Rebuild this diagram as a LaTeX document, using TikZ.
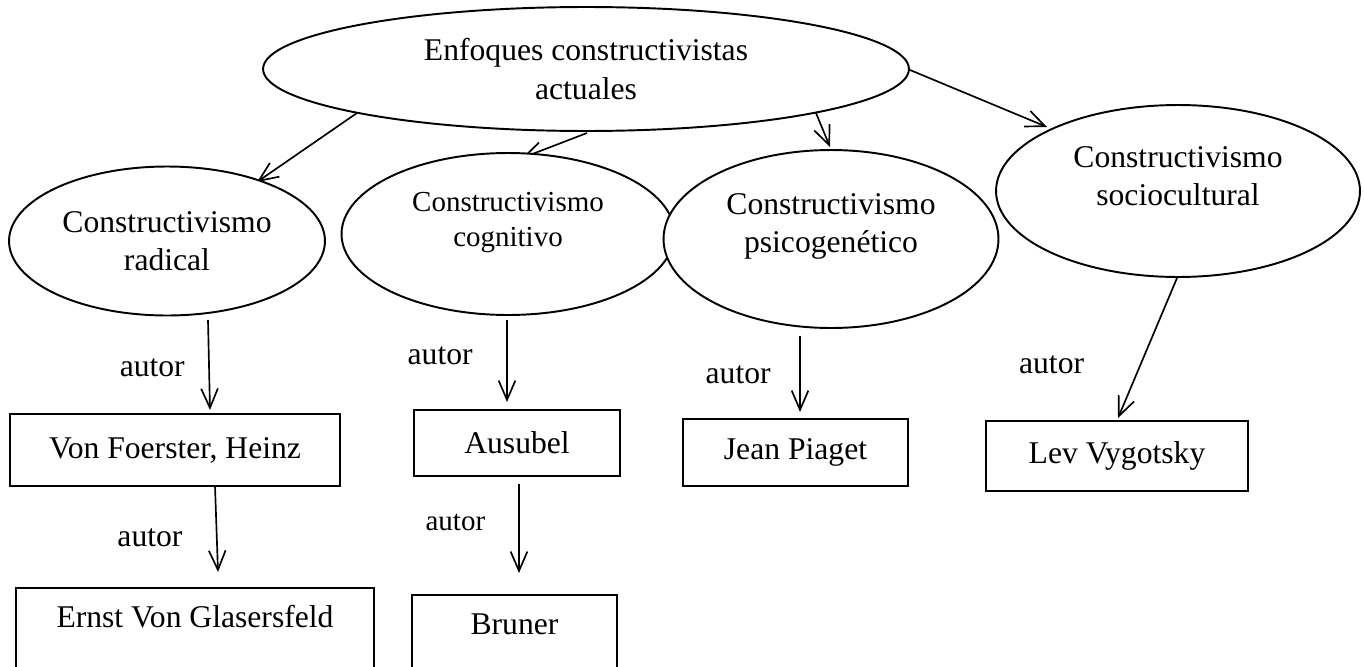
\documentclass[tikz,border=0pt]{standalone}
\usepackage{fontspec}
\setmainfont{Liberation Serif}
\usetikzlibrary{shapes.geometric, arrows.meta, calc, backgrounds}

\begin{document}
\begin{tikzpicture}[
    x=0.02cm, y=-0.02cm,
    bubble/.style={ellipse, draw, line width=1.1pt, fill=white, align=center, inner sep=0pt, font=\fontsize{18}{21.5}\selectfont},
    person/.style={rectangle, draw, line width=1.1pt, fill=white, inner sep=0pt, font=\fontsize{18}{21.5}\selectfont},
    arrow/.style={-{Straight Barb[length=11pt, width=9.5pt]}, line width=0.95pt},
    lbl/.style={inner sep=0pt, font=\fontsize{18}{21.5}\selectfont}
]
\useasboundingbox (0,0) rectangle (1364,666);

% Nodes
\node (enfoques) [bubble, minimum width=12.92cm, minimum height=2.48cm, font=\fontsize{18}{22.7}\selectfont] at (586,69) {Enfoques constructivistas\\actuales};
\node (radical) [bubble, minimum width=6.32cm, minimum height=2.98cm] at (167,241) {Constructivismo\\radical};
\node (cognitivo) [bubble, minimum width=6.66cm, minimum height=3.24cm, font=\fontsize{16.5}{19.5}\selectfont] at (508,234) {Constructivismo\\cognitivo\\[-3pt]\mbox{}};
\node (psico) [bubble, minimum width=6.70cm, minimum height=3.56cm] at (831,239) {Constructivismo\\psicogenético\\[-3.6pt]\mbox{}};
\node (socio) [bubble, minimum width=7.28cm, minimum height=3.44cm] at (1178,191) {Constructivismo\\sociocultural\\[-4.5pt]\mbox{}};

\node (foerster) [person, minimum width=6.6cm, minimum height=1.44cm] at (175,450) {Von Foerster, Heinz};
\node (ausubel) [person, minimum width=4.12cm, minimum height=1.32cm] at (517,443) {Ausubel};
\node (piaget) [person, minimum width=4.5cm, minimum height=1.34cm] at (795.5,452.5) {Jean Piaget};
\node (vygotsky) [person, minimum width=5.24cm, minimum height=1.4cm] at (1117,456) {Lev Vygotsky};
\node (ernst) [person, minimum width=7.16cm, text height=0.8cm, text depth=1.24cm, anchor=north] at (195,587) {Ernst Von Glasersfeld};
\node (bruner) [person, minimum width=4.1cm, text height=0.8cm, text depth=1.24cm, anchor=north] at (514.5,594) {Bruner};

% Paths
\begin{scope}[on background layer]
\draw [arrow] ($(enfoques)+(-229,44)$) -- ($(radical)+(90,-59)$);
\draw [arrow] ($(enfoques)+(1,64)$) -- ($(cognitivo)+(14,-76)$);
\draw [arrow] ($(enfoques)+(230,44)$) -- ($(psico)+(-1,-92)$);
\draw [arrow] ($(enfoques)+(324,1)$) -- ($(socio)+(-131,-64)$);
\draw [arrow] ($(radical)+(41,79)$) -- ($(foerster)+(35,-40)$) node[lbl, pos=0.53, left=0.47cm] {autor};
\draw [arrow] ($(cognitivo)+(-1,86)$) -- ($(ausubel)+(-10,-41)$) node[lbl, pos=0.43, left=0.67cm] {autor};
\draw [arrow] ($(psico)+(-31,97)$) -- ($(piaget)+(4.5,-40.5)$) node[lbl, pos=0.51, left=0.57cm] {autor};
\draw [arrow] ($(socio)+(-1,87)$) -- ($(vygotsky)+(1,-38)$) node[lbl, pos=0.62, left=1.11cm] {autor};
\draw [arrow] ($(foerster)+(40,36)$) -- ($(ernst.north)+(23,-15)$) node[lbl, pos=0.6, left=0.67cm] {autor};
\draw [arrow] ($(ausubel)+(2,41)$) -- ($(bruner.north)+(4.5,-21)$) node[lbl, pos=0.43, left=0.66cm, font=\fontsize{16.5}{19.5}\selectfont] {autor};
\end{scope}

\end{tikzpicture}
\end{document}
